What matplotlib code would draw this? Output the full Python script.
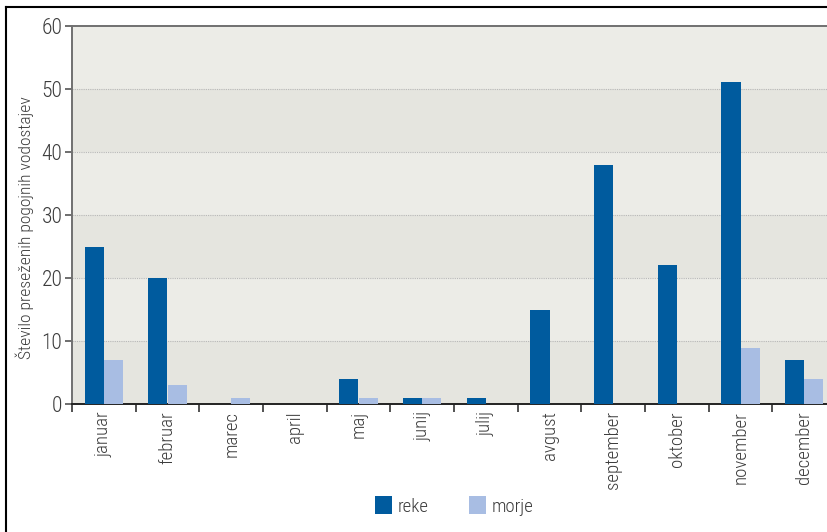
import matplotlib
matplotlib.use("Agg")
import matplotlib.pyplot as plt
import numpy as np
from matplotlib.lines import Line2D

months = ["januar", "februar", "marec", "april", "maj", "junij", "julij",
          "avgust", "september", "oktober", "november", "december"]
reke = [25, 20, 0, 0, 4, 1, 1, 15, 38, 22, 51, 7]
morje = [7, 3, 1, 0, 1, 1, 0, 0, 0, 0, 9, 4]
yticks = [0, 10, 20, 30, 40, 50, 60]
ylabel = "Število preseženih pogojnih vodostajev"
series_names = ["reke", "morje"]

plt.rcParams['font.family'] = ["Roboto Condensed", "DejaVu Sans"]
plt.rcParams['font.weight'] = 300
plt.rcParams['axes.labelweight'] = 300

C_REKE = "#005b9e"
C_MORJE = "#a8bde3"
TXT = "#3c3c3c"

W, H = 827, 532
fig = plt.figure(figsize=(W / 100, H / 100), dpi=100)
fig.patch.set_facecolor("white")

left, right, top, bottom = 72, 836, 25.7, 404.3
ax = fig.add_axes([left / W, 1 - bottom / H, (right - left) / W, (bottom - top) / H])
ax.set_facecolor("#ececE7")

x = np.arange(len(months))
bw = 0.3
ax.set_xlim(-0.5, len(months) - 0.5)
ax.set_ylim(0, 60)

for i, (lo, hi) in enumerate(zip(yticks[:-1], yticks[1:])):
    if i % 2 == 0:
        ax.axhspan(lo, hi, color="#e5e5df", zorder=0, lw=0)
for t in yticks[1:-1]:
    ax.axhline(t, color="#b8b8b8", lw=0.8, ls=(0, (1, 1)), zorder=1)

ax.bar(x - bw / 2, reke, bw, color=C_REKE, zorder=3, label=series_names[0])
ax.bar(x + bw / 2, morje, bw, color=C_MORJE, zorder=3, label=series_names[1])

ax.set_yticks(yticks)
ax.set_yticklabels([str(v) for v in yticks], fontsize=15.5, color=TXT, fontweight=300)
ax.set_xticks(x - 0.5, minor=False)
ax.set_xticklabels([])
ax.set_xticks(x, minor=True)
ax.set_xticklabels(months, minor=True, rotation=90, fontsize=13.5, color=TXT, fontweight=300)
ax.tick_params(axis="x", which="minor", length=0, pad=5)
ax.tick_params(axis="x", which="major", length=6, width=1.2, color="#333333", direction="out")
ax.tick_params(axis="y", length=5, width=1.2, color="#555555", direction="out", pad=2)

for s in ["left", "top"]:
    ax.spines[s].set_color("#707070")
    ax.spines[s].set_linewidth(1.4)
ax.spines["bottom"].set_color("#222222")
ax.spines["bottom"].set_linewidth(1.4)
ax.spines["right"].set_visible(False)

ax.set_ylabel(ylabel, fontsize=12.6, color=TXT, fontweight=300)
ax.yaxis.set_label_coords(-38 / (right - left), (bottom - 228) / (bottom - top))

fig.legend(loc="center", bbox_to_anchor=(454 / W, 1 - 506 / H), ncol=2,
           frameon=False, handlelength=0.9, handleheight=1.1,
           columnspacing=2.15, handletextpad=0.3, labelcolor=TXT,
           prop={"family": ["Roboto Condensed", "DejaVu Sans"], "weight": 300, "size": 13.5})

fig.add_artist(Line2D([5.5 / W, 5.5 / W], [0, 1 - 7 / H], transform=fig.transFigure, color="black", lw=1.5))
fig.add_artist(Line2D([5.5 / W, 1], [1 - 7 / H, 1 - 7 / H], transform=fig.transFigure, color="black", lw=1.5))

fig.savefig("out.png", dpi=100)
